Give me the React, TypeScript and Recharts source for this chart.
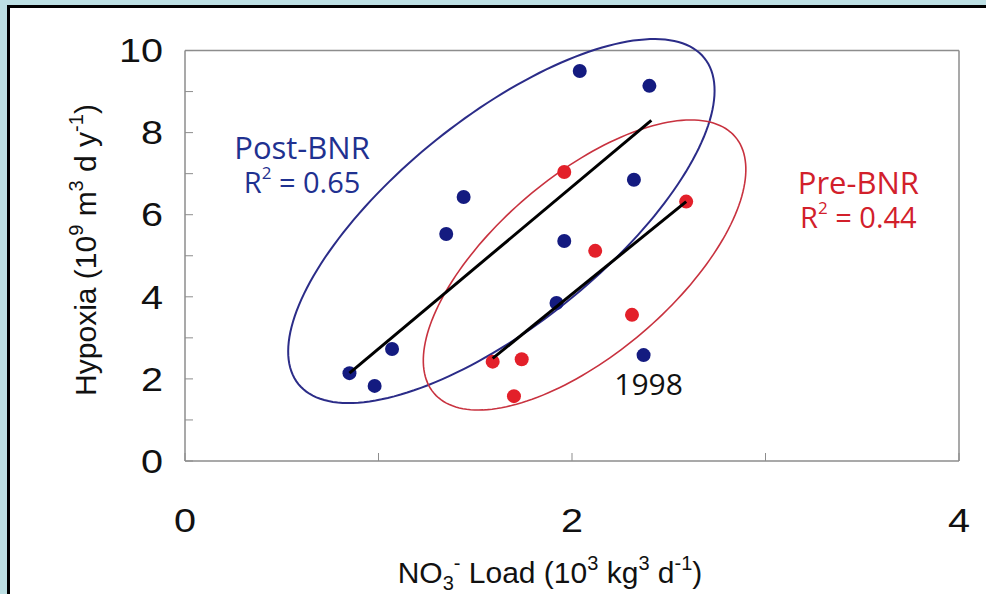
import React from 'react';
import { ScatterChart, Scatter, XAxis, YAxis, ReferenceLine } from 'recharts';

// Hypoxia volume vs. nitrate load, before and after biological nutrient removal (BNR)
const postBnr = [
  { x: 0.85, y: 2.14 },
  { x: 0.98, y: 1.83 },
  { x: 1.07, y: 2.73 },
  { x: 1.35, y: 5.53 },
  { x: 1.44, y: 6.43 },
  { x: 2.04, y: 9.5 },
  { x: 2.4, y: 9.14 },
  { x: 1.96, y: 5.36 },
  { x: 1.92, y: 3.85 },
  { x: 2.32, y: 6.85 },
  { x: 2.37, y: 2.58 },
];

const preBnr = [
  { x: 1.96, y: 7.04 },
  { x: 2.12, y: 5.12 },
  { x: 2.59, y: 6.32 },
  { x: 2.31, y: 3.56 },
  { x: 1.59, y: 2.42 },
  { x: 1.74, y: 2.48 },
  { x: 1.7, y: 1.58 },
];

// Regression lines (end points)
const postFit = [
  { x: 0.85, y: 2.14 },
  { x: 2.41, y: 8.3 },
];
const preFit = [
  { x: 1.59, y: 2.5 },
  { x: 2.59, y: 6.32 },
];

// Group envelopes: centre and the two semi-axis vectors, in data units
const postEnvelope = { c: { x: 1.635, y: 5.846 }, u: { x: 1.049, y: 3.971 }, v: { x: 0.337, y: -1.973 } };
const preEnvelope = { c: { x: 2.065, y: 4.775 }, u: { x: 0.778, y: 3.126 }, v: { x: 0.299, y: -1.647 } };

const xTicks = [0, 1, 2, 3, 4];
const yTicks = [0, 1, 2, 3, 4, 5, 6, 7, 8, 9, 10];

const groupLabels = [
  { x: 0.605, y: 7.357, name: 'Post-BNR', r2: '0.65', color: '#1f3190' },
  { x: 3.48, y: 6.5, name: 'Pre-BNR', r2: '0.44', color: '#d2202b' },
];
const yearNote = [{ x: 2.396, y: 1.608, text: '1998' }];

const ring = (e: typeof postEnvelope, n = 180) =>
  Array.from({ length: n + 1 }, (_, i) => {
    const t = (2 * Math.PI * i) / n;
    return {
      x: e.c.x + e.u.x * Math.cos(t) + e.v.x * Math.sin(t),
      y: e.c.y + e.u.y * Math.cos(t) + e.v.y * Math.sin(t),
    };
  });

const postRing = ring(postEnvelope);
const preRing = ring(preEnvelope);

const AXIS_GRAY = '#8d8d8d';
const SANS = '"Liberation Sans", Arial, Helvetica, sans-serif';
const HUMANIST = '"Open Sans", "Noto Sans", sans-serif';

const none = () => <g />;

const dot = (color: string) => (p: any) => <circle cx={p.cx} cy={p.cy} r={7} fill={color} />;

// Tick labels: only even values are written, in a slightly widened face
const YTick = (p: any) => {
  const v = p.payload.value;
  if (v % 2 !== 0) return <g />;
  return (
    <text
      transform={`translate(${p.x},${p.y}) scale(1.2,1)`}
      textAnchor="end"
      dy="0.355em"
      fontFamily={SANS}
      fontSize={33}
      fill="#111"
    >
      {v}
    </text>
  );
};

const XTick = (p: any) => {
  const v = p.payload.value;
  if (v % 2 !== 0) return <g />;
  return (
    <text
      transform={`translate(${p.x},${p.y}) scale(1.2,1)`}
      textAnchor="middle"
      dy="0.71em"
      fontFamily={SANS}
      fontSize={33}
      fill="#111"
    >
      {v}
    </text>
  );
};

const GroupLabel = (p: any) => {
  const d = p.payload;
  return (
    <text x={p.cx} y={p.cy} textAnchor="middle" fill={d.color} fontFamily={HUMANIST} fontSize={31}>
      <tspan x={p.cx}>{d.name}</tspan>
      <tspan x={p.cx} dy={34} fontSize={29}>R</tspan>
      <tspan fontSize={17} dy={-14}>2</tspan>
      <tspan fontSize={29} dy={14}>{' = ' + d.r2}</tspan>
    </text>
  );
};

const YearLabel = (p: any) => (
  <text x={p.cx} y={p.cy} textAnchor="middle" fill="#111" fontFamily={HUMANIST} fontSize={30}>
    {p.payload.text}
  </text>
);

const YTitle = (props: any) => {
  const vb = props.viewBox;
  const cx = vb.x + 16;
  const cy = 250;
  return (
    <text
      transform={`translate(${cx},${cy}) rotate(-90)`}
      textAnchor="middle"
      fontFamily={SANS}
      fontSize={30}
      fill="#111"
    >
      <tspan>Hypoxia (10</tspan>
      <tspan fontSize={20} dy={-13}>9</tspan>
      <tspan dy={13}> m</tspan>
      <tspan fontSize={20} dy={-13}>3</tspan>
      <tspan dy={13}> d y</tspan>
      <tspan fontSize={20} dy={-13}>-1</tspan>
      <tspan dy={13}>)</tspan>
    </text>
  );
};

const XTitle = (props: any) => {
  const vb = props.viewBox;
  const cx = vb.x + vb.width / 2 - 22;
  const y = vb.y + 122;
  return (
    <text x={cx} y={y} textAnchor="middle" fontFamily={SANS} fontSize={30} fill="#111">
      <tspan>NO</tspan>
      <tspan fontSize={20} dy={7}>3</tspan>
      <tspan fontSize={20} dy={-20}>-</tspan>
      <tspan dy={13}> Load (10</tspan>
      <tspan fontSize={20} dy={-13}>3</tspan>
      <tspan dy={13}> kg</tspan>
      <tspan fontSize={20} dy={-13}>3</tspan>
      <tspan dy={13}> d</tspan>
      <tspan fontSize={20} dy={-13}>-1</tspan>
      <tspan dy={13}>)</tspan>
    </text>
  );
};

export default function App() {
  return (
    <div style={{ position: 'fixed', left: 0, top: 0, width: 986, height: 594, background: '#bcdfe3', overflow: 'hidden' }}>
      <div
        style={{
          position: 'absolute',
          left: 7,
          top: 5,
          width: 1000,
          height: 620,
          background: '#ffffff',
          borderLeft: '3px solid #000',
          borderTop: '3px solid #000',
        }}
      />
      <div style={{ position: 'absolute', left: 0, top: 0 }}>
        <ScatterChart width={986} height={594} margin={{ top: 30, right: 27, bottom: 43, left: 80 }}>
          <XAxis
            type="number"
            dataKey="x"
            domain={[0, 4]}
            ticks={xTicks}
            interval={0}
            tickSize={-8}
            tickMargin={56}
            height={90}
            axisLine={{ stroke: AXIS_GRAY, strokeWidth: 1.5 }}
            tickLine={{ stroke: AXIS_GRAY, strokeWidth: 1 }}
            tick={<XTick />}
            label={<XTitle />}
          />
          <YAxis
            type="number"
            dataKey="y"
            domain={[0, 10.5]}
            ticks={yTicks}
            interval={0}
            tickSize={-8}
            tickMargin={30}
            width={105}
            axisLine={false}
            tickLine={{ stroke: AXIS_GRAY, strokeWidth: 1 }}
            tick={<YTick />}
            label={<YTitle />}
          />
          <ReferenceLine segment={[{ x: 0, y: 0 }, { x: 0, y: 10 }]} stroke={AXIS_GRAY} strokeWidth={1.5} />
          <ReferenceLine segment={[{ x: 0, y: 10 }, { x: 4, y: 10 }]} stroke={AXIS_GRAY} strokeWidth={1.5} />
          <ReferenceLine segment={[{ x: 4, y: 0 }, { x: 4, y: 10 }]} stroke={AXIS_GRAY} strokeWidth={1.5} />

          <Scatter data={postRing} line={{ stroke: '#2b2c88', strokeWidth: 2 }} shape={none} isAnimationActive={false} />
          <Scatter data={preRing} line={{ stroke: '#c8323f', strokeWidth: 1.6 }} shape={none} isAnimationActive={false} />

          <Scatter data={postBnr} shape={dot('#141b80')} isAnimationActive={false} />
          <Scatter data={preBnr} shape={dot('#e3202a')} isAnimationActive={false} />

          <Scatter data={postFit} line={{ stroke: '#000', strokeWidth: 3 }} shape={none} isAnimationActive={false} />
          <Scatter data={preFit} line={{ stroke: '#000', strokeWidth: 3 }} shape={none} isAnimationActive={false} />

          <Scatter data={groupLabels} shape={GroupLabel} isAnimationActive={false} />
          <Scatter data={yearNote} shape={YearLabel} isAnimationActive={false} />
        </ScatterChart>
      </div>
    </div>
  );
}
